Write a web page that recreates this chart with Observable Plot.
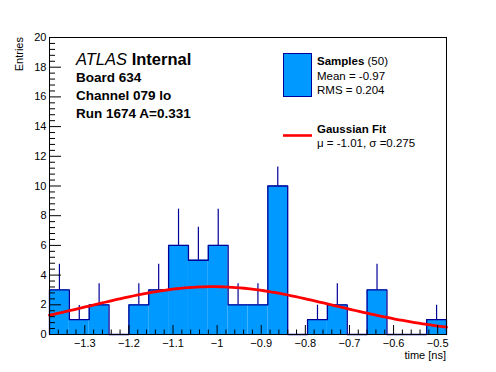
<!DOCTYPE html>
<html><head><meta charset="utf-8">
<script src="https://cdn.jsdelivr.net/npm/d3@7"></script>
<script src="https://cdn.jsdelivr.net/npm/@observablehq/plot@0.6"></script>
<style>
body{margin:0;background:#fff;}
#chart{position:relative;width:496px;height:372px;}
svg text{font-family:"Liberation Sans",Arial,Helvetica,sans-serif;}
</style>
</head><body><div id="chart"></div>
<script>
// ---- data ----
const binEdges = [-1.38,-1.335,-1.29,-1.245,-1.2,-1.155,-1.11,-1.065,-1.02,-0.975,-0.93,-0.885,-0.84,-0.795,-0.75,-0.705,-0.66,-0.615,-0.57,-0.525,-0.48];
const counts   = [3,1,2,0,2,3,6,5,6,2,2,10,0,1,2,0,3,0,0,1];
const errorTop = [4.73,1.95,3.41,0,3.41,4.73,8.44,7.23,8.44,3.41,3.41,11.28,0,1.97,3.41,0,4.73,0,0,1.97];
const fitMu = -1.01, fitSigma = 0.275, fitAmp = 3.22;
const xMajorTicks = [-1.3,-1.2,-1.1,-1.0,-0.9,-0.8,-0.7,-0.6,-0.5];
const yMajorTicks = [0,2,4,6,8,10,12,14,16,18,20];
const xDomain = [-1.38, -0.48];
const yDomain = [0, 20];

// ---- derived tables ----
const bins = counts.map((c,i) => ({x1: binEdges[i], x2: binEdges[i+1], xc: (binEdges[i]+binEdges[i+1])/2, count: c, top: errorTop[i]}));
const outline = [{x: binEdges[0], y: 0}];
bins.forEach(b => { outline.push({x: b.x1, y: b.count}); outline.push({x: b.x2, y: b.count}); });
outline.push({x: binEdges[binEdges.length-1], y: 0});
const fitPts = d3.range(0, 101).map(i => {
  const x = xDomain[0] + (xDomain[1]-xDomain[0]) * i / 100;
  return {x, y: fitAmp * Math.exp(-0.5 * ((x - fitMu)/fitSigma)**2)};
});
const xMinorTicks = d3.range(0, 46).map(i => +(xDomain[0] + i*0.02).toFixed(2)).filter(v => !xMajorTicks.some(m => Math.abs(m-v) < 1e-6));
const yMinorTicks = d3.range(0, 51).map(i => +(i*0.4).toFixed(1)).filter(v => !yMajorTicks.some(m => Math.abs(m-v) < 1e-6));

const W = 496, H = 372, mL = 49, mR = 50, mT = 37, mB = 38;
const fh = H - mT - mB, fw = W - mL - mR;
const fmt = d => String(d).replace("-", "\u2212");
const navy = "#000099", azure = "#0099ff";

const plot = Plot.plot({
  width: W, height: H,
  marginLeft: mL, marginRight: mR, marginTop: mT, marginBottom: mB,
  style: {fontFamily: '"Liberation Sans", Arial, sans-serif', fontSize: "11px", background: "#fff", color: "#000"},
  x: {domain: xDomain, label: null},
  y: {domain: yDomain, label: null},
  marks: [
    Plot.rectY(bins, {x1: "x1", x2: "x2", y1: 0, y2: "count", fill: azure}),
    Plot.ruleX(bins.filter(b => b.count > 0), {x: "xc", y1: "count", y2: "top", stroke: navy, strokeWidth: 1.2}),
    Plot.line(outline, {x: "x", y: "y", stroke: navy, strokeWidth: 1.3}),
    Plot.line(fitPts, {x: "x", y: "y", stroke: "#ff0000", strokeWidth: 2.8}),
    Plot.tickX(xMajorTicks, {x: d => d, insetTop: fh - 9, stroke: "#000"}),
    Plot.tickX(xMinorTicks, {x: d => d, insetTop: fh - 4.5, stroke: "#000"}),
    Plot.tickY(yMajorTicks, {y: d => d, insetRight: fw - 12, stroke: "#000"}),
    Plot.tickY(yMinorTicks, {y: d => d, insetRight: fw - 6, stroke: "#000"}),
    Plot.axisX({ticks: xMajorTicks, tickSize: 0, tickPadding: 5, tickFormat: fmt, fontSize: 11}),
    Plot.axisY({ticks: yMajorTicks, tickSize: 0, tickPadding: 3, tickFormat: fmt, fontSize: 11}),
    Plot.frame({stroke: "#000", strokeWidth: 1})
  ]
});
document.getElementById("chart").appendChild(plot);

// ---- axis titles, annotations and legend ----
const svg = d3.select(plot);
const g = svg.append("g").attr("font-family", '"Liberation Sans", Arial, sans-serif').attr("fill", "#000").attr("text-anchor", "start");
g.append("text").attr("transform", "translate(23,37) rotate(-90)").attr("text-anchor", "end").attr("font-size", 11).text("Entries");
g.append("text").attr("x", 446).attr("y", 359).attr("text-anchor", "end").attr("font-size", 11).text("time [ns]");

const t1 = g.append("text").attr("x", 76).attr("y", 65).attr("font-size", 16.5);
t1.append("tspan").attr("font-style", "italic").text("ATLAS");
t1.append("tspan").attr("font-weight", "bold").text(" Internal");
[["Board 634", 82], ["Channel 079 lo", 100], ["Run 1674 A=0.331", 118]].forEach(([s, y]) =>
  g.append("text").attr("x", 76).attr("y", y).attr("font-size", 13.5).attr("font-weight", "bold").text(s));

g.append("rect").attr("x", 283.5).attr("y", 53.5).attr("width", 28).attr("height", 43).attr("fill", azure).attr("stroke", navy).attr("stroke-width", 1);
const s1 = g.append("text").attr("x", 317).attr("y", 65).attr("font-size", 11.5);
s1.append("tspan").attr("font-weight", "bold").text("Samples");
s1.append("tspan").text(" (50)");
g.append("text").attr("x", 317).attr("y", 80).attr("font-size", 11.5).text("Mean = -0.97");
g.append("text").attr("x", 317).attr("y", 94).attr("font-size", 11.5).text("RMS = 0.204");
g.append("line").attr("x1", 283).attr("x2", 312).attr("y1", 135.5).attr("y2", 135.5).attr("stroke", "#ff0000").attr("stroke-width", 2.6);
g.append("text").attr("x", 317).attr("y", 133).attr("font-size", 11.5).attr("font-weight", "bold").text("Gaussian Fit");
g.append("text").attr("x", 317).attr("y", 147).attr("font-size", 11.5).text("\u03bc = -1.01, \u03c3 =0.275");
</script>
</body></html>
